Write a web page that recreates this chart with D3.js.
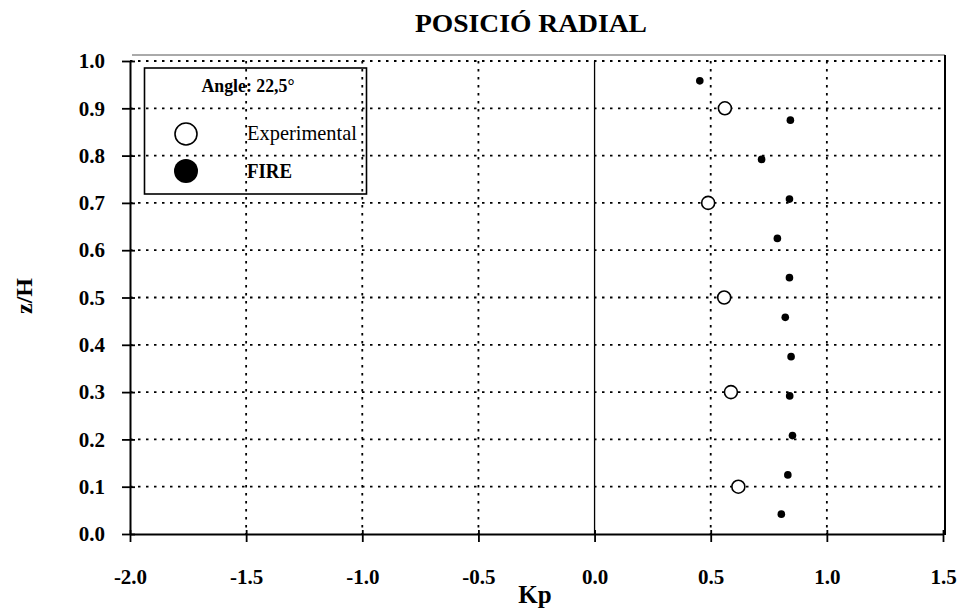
<!DOCTYPE html>
<html>
<head>
<meta charset="utf-8">
<script src="https://cdn.jsdelivr.net/npm/d3@7"></script>
<style>
  html, body { margin: 0; padding: 0; background: #fff; }
  svg { display: block; }
  text { font-family: "Liberation Serif", "Times New Roman", serif; fill: #000; }
</style>
</head>
<body>
<svg id="chart" width="961" height="616"></svg>
<script>
// ---- Data ----
const xTicks = [-2.0, -1.5, -1.0, -0.5, 0.0, 0.5, 1.0, 1.5];
const yTicks = [0.0, 0.1, 0.2, 0.3, 0.4, 0.5, 0.6, 0.7, 0.8, 0.9, 1.0];
const expKp = [0.619, 0.587, 0.558, 0.489, 0.561];
const expZ  = [0.1, 0.3, 0.5, 0.7, 0.9];
const fireKp = [0.804, 0.832, 0.852, 0.840, 0.846, 0.821, 0.839, 0.787, 0.839, 0.719, 0.843, 0.453];
const fireZ  = [0.042, 0.125, 0.208, 0.292, 0.375, 0.458, 0.542, 0.625, 0.708, 0.792, 0.875, 0.958];
const legendTitle = "Angle: 22,5°";
const seriesNames = ["Experimental", "FIRE"];

const svg = d3.select("#chart");
const x = d3.scaleLinear().domain([-2, 1.5]).range([130, 943]);
const y = d3.scaleLinear().domain([0, 1]).range([534, 61]);

// Title
svg.append("text").attr("x", 531).attr("y", 32).attr("text-anchor", "middle")
  .attr("font-size", 26).attr("font-weight", "bold")
  .attr("textLength", 232).attr("lengthAdjust", "spacingAndGlyphs")
  .text("POSICIÓ RADIAL");

// Frame (top and right)
svg.append("line").attr("x1", 132).attr("x2", 945).attr("y1", 55).attr("y2", 55)
  .attr("stroke", "#555").attr("stroke-width", 1);
svg.append("line").attr("x1", 945).attr("x2", 945).attr("y1", 55).attr("y2", 535)
  .attr("stroke", "#000").attr("stroke-width", 2);

// Grid lines
const grid = svg.append("g");
grid.selectAll(".hg").data(yTicks.filter(d => d > 0)).enter().append("line")
  .attr("x1", x(-2)).attr("x2", x(1.5)).attr("y1", d => y(d)).attr("y2", d => y(d))
  .attr("stroke", "#000").attr("stroke-width", 1.8).attr("stroke-dasharray", "2.5,5.5");
grid.selectAll(".vg").data(xTicks.filter(d => d !== -2 && d !== 0 && d !== 1.5)).enter().append("line")
  .attr("x1", d => x(d)).attr("x2", d => x(d)).attr("y1", y(1)).attr("y2", y(0))
  .attr("stroke", "#000").attr("stroke-width", 1.8).attr("stroke-dasharray", "2.5,5.5");
// zero line
svg.append("line").attr("x1", x(0)).attr("x2", x(0)).attr("y1", y(1)).attr("y2", y(0))
  .attr("stroke", "#000").attr("stroke-width", 1.3);

// Axes
const xAxis = d3.axisBottom(x).tickValues(xTicks).tickFormat(d3.format(".1f"))
  .tickSizeInner(8).tickSizeOuter(0).tickPadding(27);
const gx = svg.append("g").attr("transform", `translate(0,${y(0)})`).call(xAxis);
gx.select(".domain").attr("stroke-width", 2);
gx.selectAll(".tick line").attr("stroke-width", 1.8).attr("y1", -4);
gx.selectAll(".tick text").attr("font-family", "Liberation Serif").attr("font-size", 21)
  .attr("font-weight", "bold").attr("fill", "#000")
  .text(d => d3.format(".1f")(d).replace("−", "-"));

const yAxis = d3.axisLeft(y).tickValues(yTicks).tickFormat(d3.format(".1f"))
  .tickSizeInner(8).tickSizeOuter(0).tickPadding(17);
const gy = svg.append("g").attr("transform", `translate(${x(-2)},0)`).call(yAxis);
gy.select(".domain").attr("stroke-width", 2);
gy.selectAll(".tick line").attr("stroke-width", 1.8).attr("x2", -8).attr("x1", 5);
gy.selectAll(".tick text").attr("font-family", "Liberation Serif").attr("font-size", 21)
  .attr("font-weight", "bold").attr("fill", "#000");

// Axis titles
svg.append("text").attr("x", 535).attr("y", 603).attr("text-anchor", "middle")
  .attr("font-size", 25).attr("font-weight", "bold").text("Kp");
svg.append("text").attr("transform", "translate(32,296) rotate(-90)").attr("text-anchor", "middle")
  .attr("font-size", 24).attr("font-weight", "bold").text("z/H");

// Data points
svg.selectAll(".exp").data(expKp).enter().append("circle")
  .attr("cx", d => x(d)).attr("cy", (d, i) => y(expZ[i])).attr("r", 6.5)
  .attr("fill", "#fff").attr("stroke", "#000").attr("stroke-width", 1.6);
svg.selectAll(".fire").data(fireKp).enter().append("circle")
  .attr("cx", d => x(d)).attr("cy", (d, i) => y(fireZ[i])).attr("r", 3.8)
  .attr("fill", "#000");

// Legend
const lg = svg.append("g");
lg.append("rect").attr("x", 144.5).attr("y", 68).attr("width", 222).attr("height", 126)
  .attr("fill", "none").attr("stroke", "#000").attr("stroke-width", 1.6);
lg.append("text").attr("x", 248).attr("y", 92).attr("text-anchor", "middle")
  .attr("font-size", 19).attr("font-weight", "bold")
  .attr("textLength", 93).attr("lengthAdjust", "spacingAndGlyphs").text(legendTitle);
lg.append("circle").attr("cx", 186).attr("cy", 134).attr("r", 11)
  .attr("fill", "#fff").attr("stroke", "#000").attr("stroke-width", 1.6);
lg.append("circle").attr("cx", 186).attr("cy", 171).attr("r", 12).attr("fill", "#000");
lg.append("text").attr("x", 247).attr("y", 140).attr("font-size", 22)
  .attr("textLength", 110).attr("lengthAdjust", "spacingAndGlyphs").text(seriesNames[0]);
lg.append("text").attr("x", 247).attr("y", 178).attr("font-size", 21).attr("font-weight", "bold")
  .attr("textLength", 45).attr("lengthAdjust", "spacingAndGlyphs").text(seriesNames[1]);
</script>
</body>
</html>
